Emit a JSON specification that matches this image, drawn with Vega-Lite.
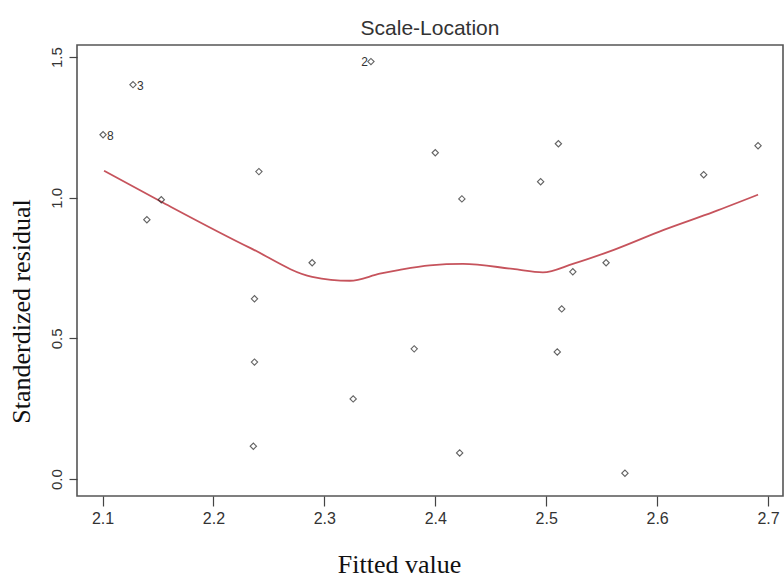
{
  "$schema": "https://vega.github.io/schema/vega-lite/v6.json",
  "width": 706,
  "height": 451,
  "autosize": {"type": "none"},
  "padding": {"left": 77, "top": 45, "right": 1, "bottom": 84},
  "background": "white",
  "title": {
    "text": "Scale-Location",
    "font": "Liberation Sans Narrow, Liberation Sans",
    "fontSize": 21,
    "fontWeight": "normal",
    "color": "#333333",
    "anchor": "middle",
    "offset": 6
  },
  "config": {
    "view": {"stroke": "#555555", "strokeWidth": 1.6},
    "axis": {"grid": false, "domain": false}
  },
  "datasets": {
    "pts": [
      {"fitted": 2.1005, "resid": 1.224, "label": "8"},
      {"fitted": 2.1275, "resid": 1.402, "label": "3"},
      {"fitted": 2.342, "resid": 1.484, "label": "2"},
      {"fitted": 2.153, "resid": 0.993, "label": ""},
      {"fitted": 2.140, "resid": 0.922, "label": ""},
      {"fitted": 2.241, "resid": 1.093, "label": ""},
      {"fitted": 2.289, "resid": 0.769, "label": ""},
      {"fitted": 2.237, "resid": 0.641, "label": ""},
      {"fitted": 2.237, "resid": 0.416, "label": ""},
      {"fitted": 2.236, "resid": 0.117, "label": ""},
      {"fitted": 2.326, "resid": 0.285, "label": ""},
      {"fitted": 2.381, "resid": 0.463, "label": ""},
      {"fitted": 2.400, "resid": 1.160, "label": ""},
      {"fitted": 2.424, "resid": 0.996, "label": ""},
      {"fitted": 2.422, "resid": 0.093, "label": ""},
      {"fitted": 2.495, "resid": 1.057, "label": ""},
      {"fitted": 2.511, "resid": 1.192, "label": ""},
      {"fitted": 2.510, "resid": 0.452, "label": ""},
      {"fitted": 2.514, "resid": 0.605, "label": ""},
      {"fitted": 2.524, "resid": 0.737, "label": ""},
      {"fitted": 2.554, "resid": 0.769, "label": ""},
      {"fitted": 2.571, "resid": 0.021, "label": ""},
      {"fitted": 2.642, "resid": 1.082, "label": ""},
      {"fitted": 2.691, "resid": 1.185, "label": ""}
    ],
    "smooth": [
      {"fitted": 2.1014, "resid": 1.096},
      {"fitted": 2.153, "resid": 0.986},
      {"fitted": 2.233, "resid": 0.822},
      {"fitted": 2.289, "resid": 0.719},
      {"fitted": 2.323, "resid": 0.705},
      {"fitted": 2.350, "resid": 0.730},
      {"fitted": 2.368, "resid": 0.744},
      {"fitted": 2.395, "resid": 0.760},
      {"fitted": 2.425, "resid": 0.765},
      {"fitted": 2.470, "resid": 0.747},
      {"fitted": 2.497, "resid": 0.735},
      {"fitted": 2.524, "resid": 0.765},
      {"fitted": 2.561, "resid": 0.815},
      {"fitted": 2.606, "resid": 0.886},
      {"fitted": 2.651, "resid": 0.950},
      {"fitted": 2.691, "resid": 1.011}
    ]
  },
  "layer": [
    {
      "data": {"name": "smooth"},
      "mark": {"type": "line", "color": "#c0404a", "strokeWidth": 1.8, "opacity": 0.9, "interpolate": "monotone"},
      "encoding": {
        "x": {
          "field": "fitted", "type": "quantitative",
          "scale": {"domain": [2.077, 2.7135], "nice": false, "zero": false},
          "axis": {
            "values": [2.1, 2.2, 2.3, 2.4, 2.5, 2.6, 2.7],
            "format": ".1f",
            "tickSize": 10, "tickColor": "#444444", "tickWidth": 1.2,
            "labelFont": "Liberation Sans Narrow, Liberation Sans",
            "labelFontSize": 16, "labelColor": "#333333", "labelPadding": 4,
            "title": "Fitted value",
            "titleFont": "Liberation Serif", "titleFontSize": 26, "titleFontWeight": "normal",
            "titleColor": "#111111",
            "titleX": 322, "titleY": 76, "titleAlign": "center", "titleBaseline": "alphabetic"
          }
        },
        "y": {
          "field": "resid", "type": "quantitative",
          "scale": {"domain": [-0.06, 1.543], "nice": false, "zero": false},
          "axis": {
            "values": [0, 0.5, 1, 1.5],
            "format": ".1f",
            "labelAngle": -90,
            "tickSize": 8, "tickColor": "#444444", "tickWidth": 1.2,
            "labelFont": "Liberation Sans",
            "labelFontSize": 15, "labelColor": "#333333", "labelPadding": 5,
            "title": "Standerdized residual",
            "titleFont": "Liberation Serif", "titleFontSize": 26, "titleFontWeight": "normal",
            "titleColor": "#111111",
            "titleAngle": -90,
            "titleX": -56, "titleY": 266, "titleAlign": "center", "titleBaseline": "middle"
          }
        }
      }
    },
    {
      "data": {"name": "pts"},
      "mark": {"type": "point", "shape": "diamond", "filled": false, "size": 40, "stroke": "#222222", "strokeWidth": 1.1},
      "encoding": {
        "x": {"field": "fitted", "type": "quantitative"},
        "y": {"field": "resid", "type": "quantitative"}
      }
    },
    {
      "data": {"name": "pts"},
      "transform": [{"filter": "datum.label == '8' || datum.label == '3'"}],
      "mark": {"type": "text", "align": "left", "baseline": "middle", "dx": 4, "dy": 1, "fontSize": 12, "font": "Liberation Sans", "color": "#333333"},
      "encoding": {
        "x": {"field": "fitted", "type": "quantitative"},
        "y": {"field": "resid", "type": "quantitative"},
        "text": {"field": "label"}
      }
    },
    {
      "data": {"name": "pts"},
      "transform": [{"filter": "datum.label == '2'"}],
      "mark": {"type": "text", "align": "right", "baseline": "middle", "dx": -3, "fontSize": 12, "font": "Liberation Sans", "color": "#333333"},
      "encoding": {
        "x": {"field": "fitted", "type": "quantitative"},
        "y": {"field": "resid", "type": "quantitative"},
        "text": {"field": "label"}
      }
    }
  ]
}
